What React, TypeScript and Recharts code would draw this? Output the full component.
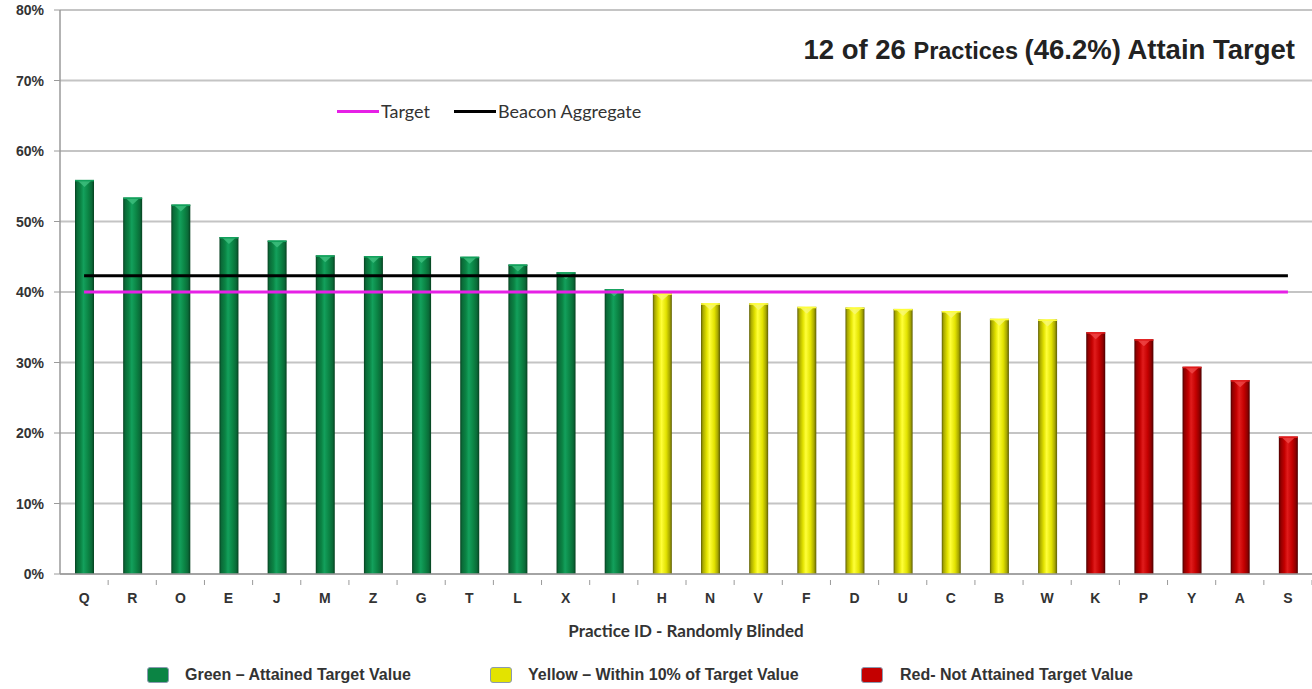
import React from 'react';
import { ComposedChart, Bar, Line, XAxis, YAxis, CartesianGrid } from 'recharts';

const categories = ['Q','R','O','E','J','M','Z','G','T','L','X','I','H','N','V','F','D','U','C','B','W','K','P','Y','A','S'];
const values = [55.9, 53.4, 52.4, 47.8, 47.3, 45.2, 45.1, 45.1, 45.0, 43.9, 42.8, 40.4, 39.8, 38.4, 38.4, 37.9, 37.8, 37.6, 37.3, 36.2, 36.1, 34.3, 33.3, 29.4, 27.5, 19.5];
const statuses = ['green','green','green','green','green','green','green','green','green','green','green','green','yellow','yellow','yellow','yellow','yellow','yellow','yellow','yellow','yellow','red','red','red','red','red'];
const targetValue = 40;
const aggregateValue = 42.3;
const yTicks = [0, 10, 20, 30, 40, 50, 60, 70, 80];
const titleParts = ['12 of 26', 'Practices', '(46.2%) Attain Target'];
const statusLegend = [
  { key: 'green', label: 'Green \u2013 Attained Target Value' },
  { key: 'yellow', label: 'Yellow \u2013 Within 10% of Target Value' },
  { key: 'red', label: 'Red- Not Attained Target Value' },
];
const lineLegend = [
  { key: 'target', label: 'Target' },
  { key: 'aggregate', label: 'Beacon Aggregate' },
];

const palette: Record<string, { edge: string; dark: string; mid: string; light: string; tri: string }> = {
  green: { edge: '#06401f', dark: '#0a6a38', mid: '#0b8444', light: '#13a05c', tri: '#40c080' },
  yellow: { edge: '#5e5e06', dark: '#a8a800', mid: '#e3e300', light: '#ffff3a', tri: '#f8f878' },
  red: { edge: '#4a0000', dark: '#900000', mid: '#c40000', light: '#e01c1c', tri: '#f04848' },
};
const lineColors: Record<string, string> = { target: '#e620e6', aggregate: '#000000' };

const data = categories.map((c, i) => ({
  name: c,
  value: values[i],
  status: statuses[i],
  target: targetValue,
  aggregate: aggregateValue,
}));

const PLOT_LEFT = 60;
const CHART_W = 1312;
const BAND = (CHART_W - PLOT_LEFT) / categories.length;

const BarShape = (props: any) => {
  const { x, y, width, height, payload } = props;
  if (height <= 0) return null;
  const s = payload.status;
  const p = palette[s];
  const cx = x + width / 2;
  return (
    <g>
      <rect x={x} y={y} width={width} height={height} fill={`url(#grad-${s})`} />
      <polygon points={`${x + 2},${y} ${x + width - 2},${y} ${cx},${y + 7}`} fill={p.tri} opacity={0.8} />
      <rect x={x} y={y} width={width} height={1.5} fill={p.light} />
    </g>
  );
};

const XTick = (props: any) => {
  const { x, y, payload } = props;
  return (
    <g>
      <line x1={x + BAND / 2} x2={x + BAND / 2} y1={y - 2} y2={y + 3} stroke="#9a9a9a" strokeWidth={1} />
      <text x={x} y={y + 21} textAnchor="middle" fontFamily="Liberation Sans, Arial, sans-serif" fontWeight="bold" fontSize={14} fill="#333">
        {payload.value}
      </text>
    </g>
  );
};

const YTick = (props: any) => {
  const { x, y, payload } = props;
  return (
    <text x={x} y={y + 5} textAnchor="end" fontFamily="Liberation Sans, Arial, sans-serif" fontWeight="bold" fontSize={14} fill="#333">
      {`${payload.value}%`}
    </text>
  );
};

const legendSquareLeft = [147, 490, 861];
const legendTextLeft = [185, 528, 900];

export default function App() {
  return (
    <div style={{ position: 'absolute', left: 0, top: 0, width: 1312, height: 689, background: '#fff', overflow: 'hidden' }}>
      <ComposedChart width={1312} height={689} data={data} margin={{ top: 10, right: 0, left: 0, bottom: 85 }}>
        <defs>
          {Object.keys(palette).map((k) => (
            <linearGradient key={k} id={`grad-${k}`} x1="0" y1="0" x2="1" y2="0">
              <stop offset="0%" stopColor={palette[k].edge} />
              <stop offset="10%" stopColor={palette[k].dark} />
              <stop offset="30%" stopColor={palette[k].mid} />
              <stop offset="45%" stopColor={palette[k].light} />
              <stop offset="70%" stopColor={palette[k].mid} />
              <stop offset="88%" stopColor={palette[k].dark} />
              <stop offset="100%" stopColor={palette[k].edge} />
            </linearGradient>
          ))}
        </defs>
        <CartesianGrid vertical={false} stroke="#c4c4c4" strokeWidth={2} />
        <XAxis
          dataKey="name"
          height={30}
          tickLine={false}
          axisLine={{ stroke: '#9a9a9a', strokeWidth: 1.5 }}
          tick={<XTick />}
          interval={0}
        />
        <YAxis
          width={60}
          domain={[0, 80]}
          ticks={yTicks}
          tickSize={6}
          tickMargin={10}
          tickLine={{ stroke: '#9a9a9a' }}
          axisLine={{ stroke: '#9a9a9a', strokeWidth: 1.5 }}
          tick={<YTick />}
          interval={0}
        />
        <Bar dataKey="value" barSize={19} shape={<BarShape />} isAnimationActive={false} />
        <Line dataKey="target" stroke={lineColors.target} strokeWidth={3} dot={false} activeDot={false} isAnimationActive={false} />
        <Line dataKey="aggregate" stroke={lineColors.aggregate} strokeWidth={3} dot={false} activeDot={false} isAnimationActive={false} />
      </ComposedChart>

      <div style={{ position: 'absolute', right: 17, top: 34, lineHeight: '32px', fontFamily: 'Liberation Sans, Arial, sans-serif', fontWeight: 'bold', color: '#222', whiteSpace: 'nowrap' }}>
        <span style={{ fontSize: 27.5 }}>{titleParts[0]} </span>
        <span style={{ fontSize: 23.5 }}>{titleParts[1]} </span>
        <span style={{ fontSize: 27.5 }}>{titleParts[2]}</span>
      </div>

      <div style={{ position: 'absolute', left: 337, top: 98, height: 26, display: 'flex', alignItems: 'center', fontFamily: 'Lato, sans-serif', fontSize: 18, color: '#333', whiteSpace: 'nowrap' }}>
        {lineLegend.map((l, i) => (
          <div key={l.key} style={{ display: 'flex', alignItems: 'center', marginRight: i === 0 ? 24 : 0 }}>
            <div style={{ width: 42, height: 3, background: lineColors[l.key] }} />
            <span style={{ marginLeft: 2 }}>{l.label}</span>
          </div>
        ))}
      </div>

      <div style={{ position: 'absolute', left: 0, width: 1372, top: 619, lineHeight: '24px', textAlign: 'center', fontFamily: 'Lato, sans-serif', fontWeight: 'bold', fontSize: 17, color: '#333' }}>
        Practice ID - Randomly Blinded
      </div>

      {statusLegend.map((s, i) => (
        <React.Fragment key={s.key}>
          <div style={{ position: 'absolute', left: legendSquareLeft[i], top: 667, width: 20, height: 14, borderRadius: 3, background: palette[s.key].mid, border: '1px solid #8a9ab0' }} />
          <div style={{ position: 'absolute', left: legendTextLeft[i], top: 665, lineHeight: '20px', fontFamily: 'Liberation Sans, Arial, sans-serif', fontWeight: 'bold', fontSize: 16, color: '#333', whiteSpace: 'nowrap' }}>
            {s.label}
          </div>
        </React.Fragment>
      ))}
    </div>
  );
}
